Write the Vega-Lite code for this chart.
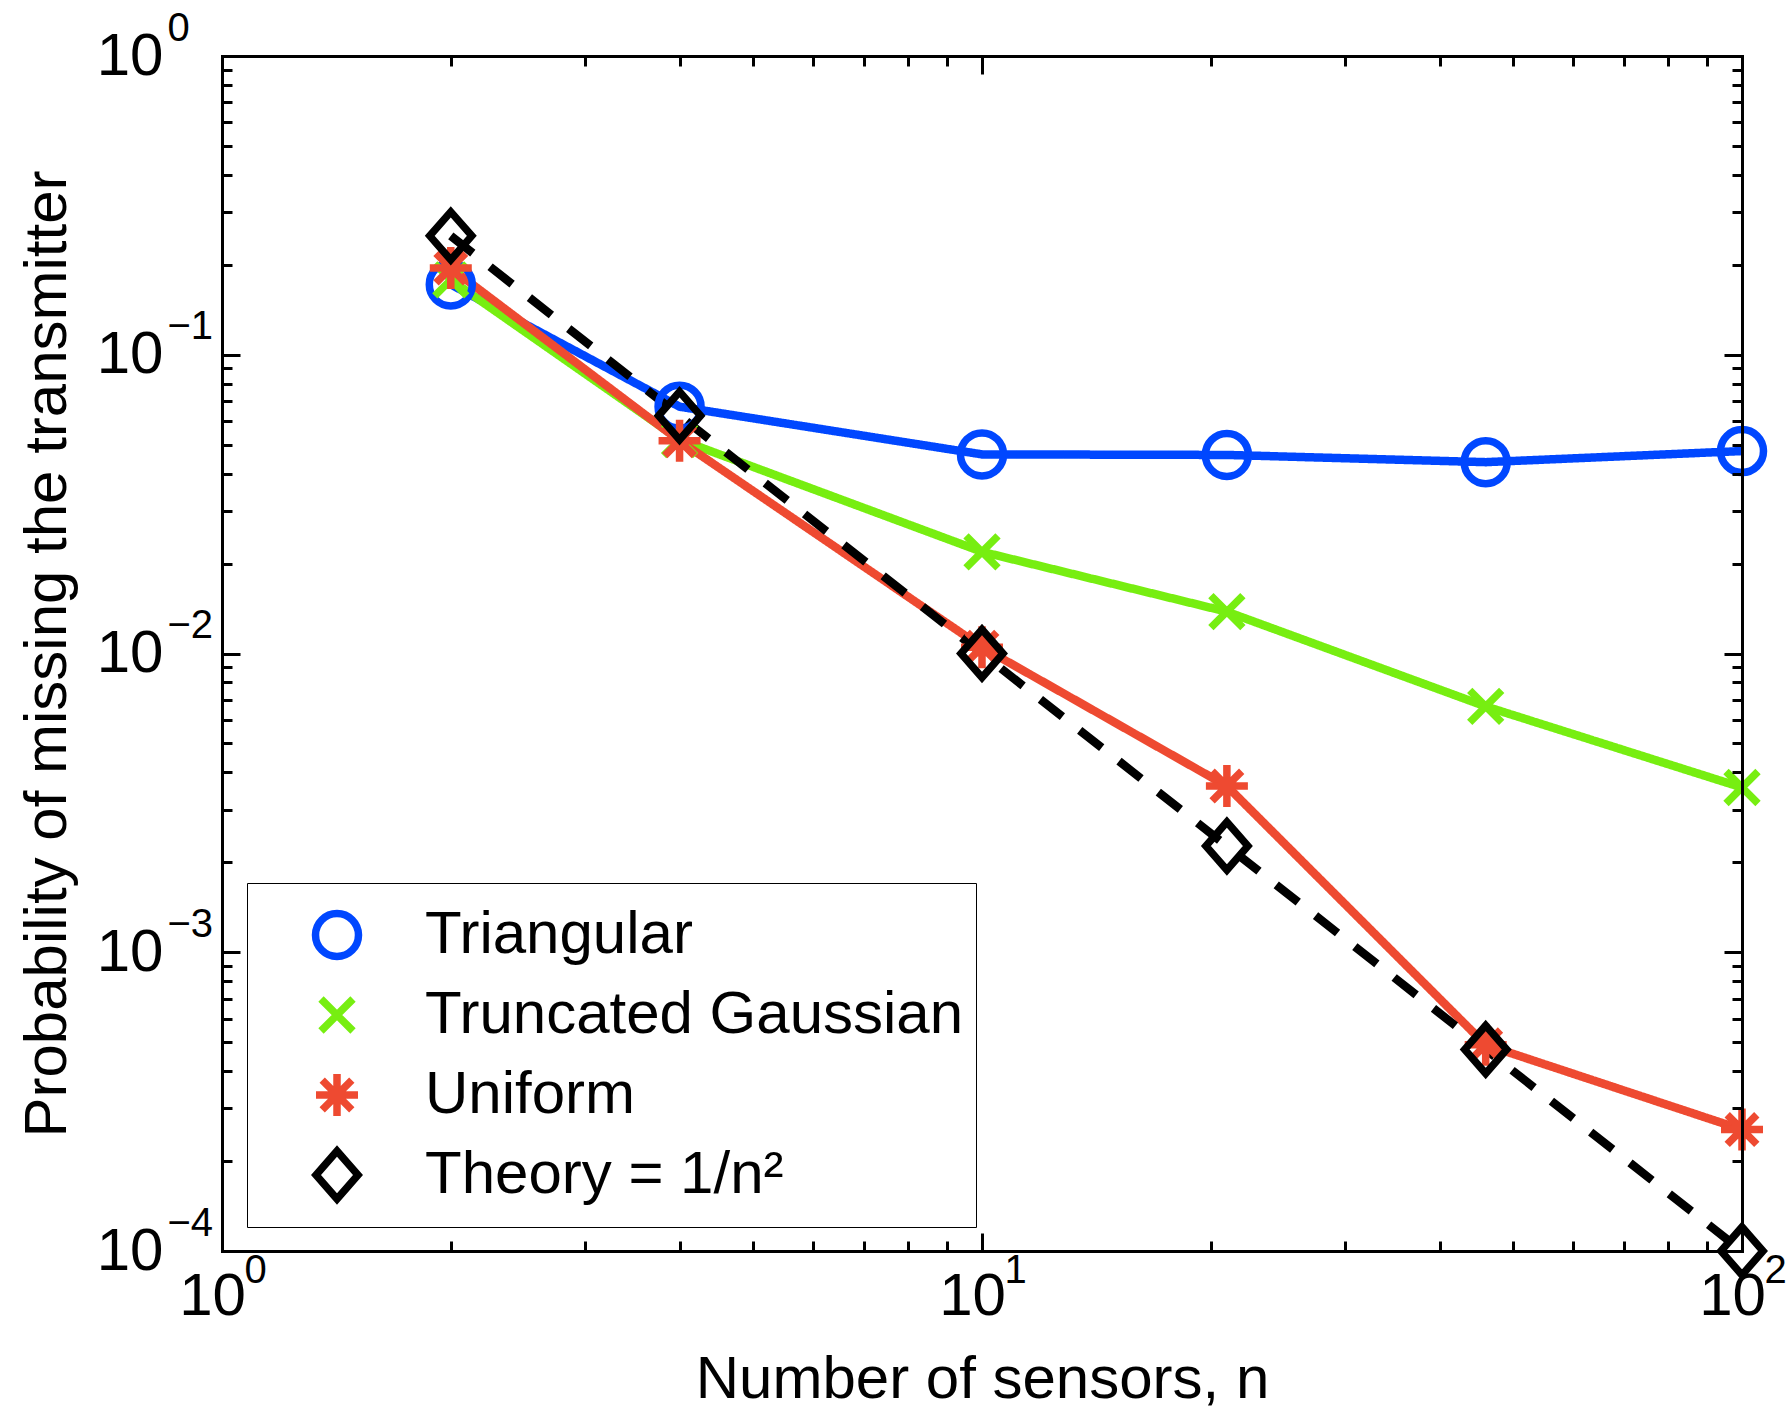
{
  "$schema": "https://vega.github.io/schema/vega-lite/v6.json",
  "width": 1520,
  "height": 1195,
  "autosize": {"type": "none"},
  "padding": {"left": 222, "top": 56, "right": 49, "bottom": 158},
  "background": "white",
  "config": {
    "view": {"stroke": null},
    "font": "Liberation Sans",
    "axis": {
      "grid": false, "domain": false, "ticks": false, "labels": false,
      "labelFont": "Liberation Sans", "labelFontSize": 60, "labelColor": "black",
      "titleFont": "Liberation Sans", "titleFontSize": 60, "titleFontWeight": "normal", "titleColor": "black",
      "tickColor": "black", "tickWidth": 3, "domainColor": "black", "domainWidth": 3,
      "labelFlush": false, "labelOverlap": false, "labelBound": false
    }
  },
  "data": {
    "values": [
      {"n": 2, "p": 0.172, "series": "Triangular"},
      {"n": 4, "p": 0.067, "series": "Triangular"},
      {"n": 10, "p": 0.0464, "series": "Triangular"},
      {"n": 21, "p": 0.0462, "series": "Triangular"},
      {"n": 46, "p": 0.0437, "series": "Triangular"},
      {"n": 100, "p": 0.0476, "series": "Triangular"},
      {"n": 2, "p": 0.178, "series": "Truncated Gaussian"},
      {"n": 4, "p": 0.052, "series": "Truncated Gaussian"},
      {"n": 10, "p": 0.0219, "series": "Truncated Gaussian"},
      {"n": 21, "p": 0.0138, "series": "Truncated Gaussian"},
      {"n": 46, "p": 0.00665, "series": "Truncated Gaussian"},
      {"n": 100, "p": 0.00356, "series": "Truncated Gaussian"},
      {"n": 2, "p": 0.195, "series": "Uniform"},
      {"n": 4, "p": 0.0515, "series": "Uniform"},
      {"n": 10, "p": 0.0105, "series": "Uniform"},
      {"n": 21, "p": 0.0036, "series": "Uniform"},
      {"n": 46, "p": 0.00049, "series": "Uniform"},
      {"n": 100, "p": 0.000255, "series": "Uniform"},
      {"n": 2, "p": 0.25, "series": "Theory = 1/n²"},
      {"n": 4, "p": 0.0625, "series": "Theory = 1/n²"},
      {"n": 10, "p": 0.01, "series": "Theory = 1/n²"},
      {"n": 21, "p": 0.002268, "series": "Theory = 1/n²"},
      {"n": 46, "p": 0.0004726, "series": "Theory = 1/n²"},
      {"n": 100, "p": 0.0001, "series": "Theory = 1/n²"}
    ]
  },
  "layer": [
    {
      "mark": {"type": "line", "strokeWidth": 8.5, "strokeCap": "butt"},
      "encoding": {
        "x": {
          "field": "n", "type": "quantitative",
          "scale": {"type": "log", "domain": [1, 100], "nice": false},
          "axis": {
            "orient": "bottom", "title": null, "zindex": 1,
            "values": [1,2,3,4,5,6,7,8,9,10,20,30,40,50,60,70,80,90,100],
            "domain": true, "domainCap": "square", "ticks": true,
            "tickSize": {"condition": {"test": "indexof([1,10,100], datum.value) >= 0", "value": -18}, "value": -10}
          }
        },
        "y": {
          "field": "p", "type": "quantitative",
          "scale": {"type": "log", "domain": [0.0001, 1], "nice": false},
          "axis": {
            "orient": "left", "title": null, "zindex": 1,
            "values": [0.0001,0.0002,0.0003,0.0004,0.0005,0.0006,0.0007,0.0008,0.0009,0.001,0.002,0.003,0.004,0.005,0.006,0.007,0.008,0.009,0.01,0.02,0.03,0.04,0.05,0.06,0.07,0.08,0.09,0.1,0.2,0.3,0.4,0.5,0.6,0.7,0.8,0.9,1],
            "domain": true, "domainCap": "square", "ticks": true,
            "tickSize": {"condition": {"test": "indexof([0.0001,0.001,0.01,0.1,1], datum.value) >= 0", "value": -18}, "value": -10}
          }
        },
        "color": {
          "field": "series", "type": "nominal",
          "scale": {"domain": ["Triangular", "Truncated Gaussian", "Uniform", "Theory = 1/n²"], "range": ["#0047FF", "#77EE11", "#EE4A31", "#000000"]}
        },
        "strokeDash": {
          "field": "series", "type": "nominal",
          "scale": {"domain": ["Theory = 1/n²", "Triangular", "Truncated Gaussian", "Uniform"], "range": [[28, 22], [1, 0], [1, 0], [1, 0]]},
          "legend": null
        }
      }
    },
    {
      "mark": {"type": "point", "filled": false, "strokeWidth": 7.5, "size": 1600, "opacity": 1},
      "encoding": {
        "x": {
          "field": "n", "type": "quantitative",
          "scale": {"type": "log", "domain": [1, 100], "nice": false},
          "axis": {
            "orient": "top", "title": null, "zindex": 1,
            "values": [1,2,3,4,5,6,7,8,9,10,20,30,40,50,60,70,80,90,100],
            "domain": true, "domainCap": "square", "ticks": true,
            "tickSize": {"condition": {"test": "indexof([1,10,100], datum.value) >= 0", "value": -18}, "value": -10}
          }
        },
        "y": {
          "field": "p", "type": "quantitative",
          "scale": {"type": "log", "domain": [0.0001, 1], "nice": false},
          "axis": {
            "orient": "right", "title": null, "zindex": 1,
            "values": [0.0001,0.0002,0.0003,0.0004,0.0005,0.0006,0.0007,0.0008,0.0009,0.001,0.002,0.003,0.004,0.005,0.006,0.007,0.008,0.009,0.01,0.02,0.03,0.04,0.05,0.06,0.07,0.08,0.09,0.1,0.2,0.3,0.4,0.5,0.6,0.7,0.8,0.9,1],
            "domain": true, "domainCap": "square", "ticks": true,
            "tickSize": {"condition": {"test": "indexof([0.0001,0.001,0.01,0.1,1], datum.value) >= 0", "value": -18}, "value": -10}
          }
        },
        "color": {
          "field": "series", "type": "nominal",
          "scale": {"domain": ["Triangular", "Truncated Gaussian", "Uniform", "Theory = 1/n²"], "range": ["#0047FF", "#77EE11", "#EE4A31", "#000000"]}
        },
        "shape": {
          "field": "series", "type": "nominal",
          "scale": {"domain": ["Triangular", "Truncated Gaussian", "Uniform", "Theory = 1/n²"], "range": [
            "M1.075,0C1.075,0.5937 0.5937,1.075 0,1.075C-0.5937,1.075 -1.075,0.5937 -1.075,0C-1.075,-0.5937 -0.5937,-1.075 0,-1.075C0.5937,-1.075 1.075,-0.5937 1.075,0Z",
            "M-0.8,-0.8L0.8,0.8M-0.8,0.8L0.8,-0.8",
            "M0,-1.05V1.05M-1.05,0H1.05M-0.74,-0.74L0.74,0.74M-0.74,0.74L0.74,-0.74",
            "M0,-1.2L1.05,0L0,1.2L-1.05,0Z"
          ]},
          "legend": {
            "title": null, "orient": "none", "legendX": 25, "legendY": 827,
            "strokeColor": "black", "padding": 12, "clipHeight": 80, "rowPadding": 0,
            "symbolSize": 1600, "symbolStrokeWidth": 7.5, "symbolOffset": 48, "labelOffset": 58,
            "labelFont": "Liberation Sans", "labelFontSize": 60, "labelColor": "black", "labelLimit": 0
          }
        }
      }
    },
    {
      "mark": {"type": "point", "opacity": 0},
      "encoding": {
        "x": {
          "field": "n", "type": "quantitative",
          "scale": {"type": "log", "domain": [1, 100], "nice": false},
          "axis": {
            "orient": "bottom", "values": [1, 10, 100], "labels": true, "labelExpr": "'10'",
            "labelAlign": "center", "labelBaseline": "alphabetic", "labelOffset": -10, "labelPadding": 63,
            "title": "Number of sensors, n", "titleY": 146, "titleBaseline": "alphabetic"
          }
        },
        "y": {
          "field": "p", "type": "quantitative",
          "scale": {"type": "log", "domain": [0.0001, 1], "nice": false},
          "axis": {
            "orient": "left", "values": [0.0001, 0.001, 0.01, 0.1, 1], "labels": true, "labelExpr": "'10'",
            "labelAlign": "right", "labelBaseline": "middle", "labelPadding": 59,
            "title": "Probability of missing the transmitter", "titleX": -157, "titleBaseline": "alphabetic", "titleAngle": -90
          }
        }
      }
    },
    {
      "mark": {"type": "point", "opacity": 0},
      "encoding": {
        "x": {
          "field": "n", "type": "quantitative",
          "scale": {"type": "log", "domain": [1, 100], "nice": false},
          "axis": {
            "orient": "bottom", "values": [1, 10, 100], "labels": true,
            "labelExpr": "'' + round(log(datum.value) / LN10)",
            "labelAlign": "left", "labelBaseline": "alphabetic", "labelOffset": 22, "labelPadding": 31, "labelFontSize": 40,
            "title": null
          }
        },
        "y": {
          "field": "p", "type": "quantitative",
          "scale": {"type": "log", "domain": [0.0001, 1], "nice": false},
          "axis": {
            "orient": "left", "values": [0.0001, 0.001, 0.01, 0.1, 1], "labels": true,
            "labelExpr": "(round(log(datum.value) / LN10) < 0 ? '−' : '') + abs(round(log(datum.value) / LN10))",
            "labelAlign": "left", "labelBaseline": "middle", "labelPadding": 55, "labelOffset": -28, "labelFontSize": 40,
            "title": null
          }
        }
      }
    }
  ],
  "resolve": {"axis": {"x": "independent", "y": "independent"}}
}
